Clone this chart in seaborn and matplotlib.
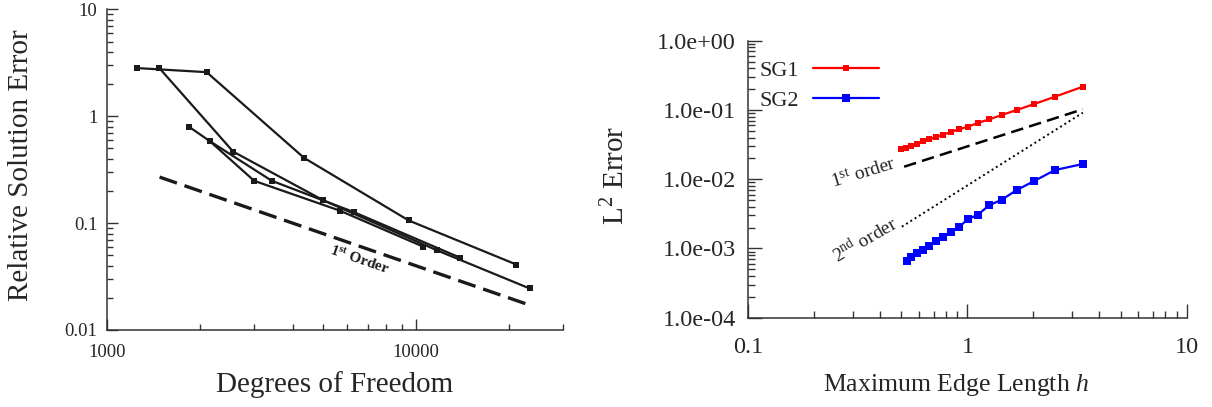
import numpy as np
import pandas as pd
import matplotlib
matplotlib.use("Agg")
import matplotlib.pyplot as plt
from matplotlib.ticker import LogLocator, NullFormatter, FixedLocator, FixedFormatter
from matplotlib.lines import Line2D
import seaborn as sns

# ---------------- data: left panel (mesh refinement studies) ----------------
dof_a = [1248, 2102, 4350, 9490, 21180]
err_a = [2.83, 2.59, 0.408, 0.106, 0.041]
dof_b = [1474, 2563, 5012, 11750, 23380]
err_b = [2.85, 0.467, 0.164, 0.0555, 0.0245]
dof_c = [1842, 2155, 2998, 5676, 10560]
err_c = [0.80, 0.584, 0.249, 0.131, 0.0604]
dof_d = [2155, 3420, 6300, 13880]
err_d = [0.584, 0.249, 0.127, 0.0477]
ref1_dof = [1480, 23400]
ref1_err = [0.270, 0.0171]

# ---------------- data: right panel (SG1 / SG2 convergence) ----------------
h_sg1 = [0.497, 0.525, 0.554, 0.588, 0.626, 0.669, 0.717, 0.772, 0.837,
         0.913, 1.004, 1.115, 1.256, 1.434, 1.679, 2.015, 2.51, 3.36]
err_sg1 = [0.0270, 0.0285, 0.0305, 0.0326, 0.0352, 0.0377, 0.0407, 0.0435,
           0.0481, 0.0525, 0.0573, 0.0648, 0.0732, 0.0845, 0.0998, 0.1218,
           0.1555, 0.2168]
h_sg2 = [0.529, 0.554, 0.588, 0.626, 0.669, 0.717, 0.772, 0.837, 0.913,
         1.004, 1.115, 1.256, 1.434, 1.679, 2.015, 2.51, 3.36]
err_sg2 = [0.000666, 0.000761, 0.000851, 0.000960, 0.001096, 0.001267,
           0.001463, 0.001746, 0.002040, 0.00263, 0.003076, 0.004197,
           0.00506, 0.00698, 0.00942, 0.01358, 0.01658]
ord1_h = [0.514, 3.36]
ord1_err = [0.01515, 0.1022]
ord2_h = [0.502, 3.36]
ord2_err = [0.00206, 0.0913]

sns.set_style("ticks")
plt.rcParams["font.family"] = ["Liberation Serif", "DejaVu Serif"]
plt.rcParams["mathtext.fontset"] = "custom"
plt.rcParams["mathtext.rm"] = "Liberation Serif"
plt.rcParams["mathtext.it"] = "Liberation Serif:italic"
plt.rcParams["mathtext.bf"] = "Liberation Serif:bold"

fig = plt.figure(figsize=(12.12, 4.07), dpi=100)
ax1 = fig.add_axes([0.0883, 0.1892, 0.3762, 0.7875])
ax2 = fig.add_axes([0.6174, 0.2194, 0.3617, 0.6806])

# ---------------- left panel ----------------
left = pd.concat([
    pd.DataFrame({"dof": dof_a, "err": err_a, "study": "a"}),
    pd.DataFrame({"dof": dof_b, "err": err_b, "study": "b"}),
    pd.DataFrame({"dof": dof_c, "err": err_c, "study": "c"}),
    pd.DataFrame({"dof": dof_d, "err": err_d, "study": "d"}),
], ignore_index=True)
sns.lineplot(data=left, x="dof", y="err", units="study", estimator=None,
             sort=False, color="#1a1a1a", lw=1.6, marker="s", markersize=5,
             markeredgewidth=0, ax=ax1, legend=False)
sns.lineplot(x=ref1_dof, y=ref1_err, color="#1a1a1a", lw=2.4,
             dashes=False, ax=ax1, legend=False)
ax1.lines[-1].set_dashes([5.5, 2.4])
ax1.set_xscale("log")
ax1.set_yscale("log")
ax1.set_xlim(1000, 30000)
ax1.set_ylim(0.01, 10)
ax1.xaxis.set_major_locator(FixedLocator([1000, 10000]))
ax1.xaxis.set_major_formatter(FixedFormatter(["1000", "10000"]))
ax1.yaxis.set_major_locator(FixedLocator([0.01, 0.1, 1, 10]))
ax1.yaxis.set_major_formatter(FixedFormatter(["0.01", "0.1", "1", "10"]))
for a in (ax1.xaxis, ax1.yaxis):
    a.set_minor_locator(LogLocator(base=10, subs=np.arange(2, 10), numticks=20))
    a.set_minor_formatter(NullFormatter())
ax1.tick_params(which="both", direction="in", width=1.0, color="#333333",
                labelsize=13.5)
ax1.tick_params(which="major", length=8)
ax1.tick_params(which="minor", length=4)
ax1.tick_params(axis="y", pad=7)
ax1.tick_params(axis="x", pad=10)
for s in ("top", "right"):
    ax1.spines[s].set_visible(False)
for s in ("left", "bottom"):
    ax1.spines[s].set_linewidth(1.1)
    ax1.spines[s].set_color("#333333")
ax1.set_xlabel("Degrees of Freedom", fontsize=21)
ax1.set_ylabel("Relative Solution Error", fontsize=21)
ax1.xaxis.set_label_coords(0.5, -0.129)
ax1.yaxis.set_label_coords(-0.16, 0.515)
ax1.text(6590, 0.0454, r"1$^{\mathbf{st}}$ Order", fontsize=11,
         fontweight="bold", rotation=-19, rotation_mode="anchor",
         ha="center", va="center", color="#1a1a1a")

# ---------------- right panel ----------------
right = pd.concat([
    pd.DataFrame({"h": h_sg1, "err": err_sg1, "scheme": "SG1"}),
    pd.DataFrame({"h": h_sg2, "err": err_sg2, "scheme": "SG2"}),
], ignore_index=True)
palette = {"SG1": "#ff0000", "SG2": "#0000ff"}
sns.lineplot(data=right[right.scheme == "SG1"], x="h", y="err", color=palette["SG1"],
             lw=1.6, marker="s", markersize=4, markeredgewidth=0, ax=ax2,
             legend=False)
sns.lineplot(data=right[right.scheme == "SG2"], x="h", y="err", color=palette["SG2"],
             lw=1.6, marker="s", markersize=6, markeredgewidth=0, ax=ax2,
             legend=False)
sns.lineplot(x=ord1_h, y=ord1_err, color="black", lw=1.8, ax=ax2, legend=False)
ax2.lines[-1].set_dashes([5, 2.5])
sns.lineplot(x=ord2_h, y=ord2_err, color="black", lw=1.4, ax=ax2, legend=False)
ax2.lines[-1].set_dashes([1, 1.6])
ax2.set_xscale("log")
ax2.set_yscale("log")
ax2.set_xlim(0.1, 10)
ax2.set_ylim(1e-4, 1)
ax2.xaxis.set_major_locator(FixedLocator([0.1, 1, 10]))
ax2.xaxis.set_major_formatter(FixedFormatter(["0.1", "1", "10"]))
ax2.yaxis.set_major_locator(FixedLocator([1e-4, 1e-3, 1e-2, 1e-1, 1]))
ax2.yaxis.set_major_formatter(FixedFormatter(
    ["1.0e-04", "1.0e-03", "1.0e-02", "1.0e-01", "1.0e+00"]))
for a in (ax2.xaxis, ax2.yaxis):
    a.set_minor_locator(LogLocator(base=10, subs=np.arange(2, 10), numticks=20))
    a.set_minor_formatter(NullFormatter())
ax2.tick_params(which="both", direction="in", width=1.0, color="#333333",
                labelsize=17.5)
ax2.tick_params(which="major", length=10)
ax2.tick_params(which="minor", length=5)
ax2.tick_params(axis="y", pad=9)
ax2.tick_params(axis="x", pad=14)
for s in ("top", "right"):
    ax2.spines[s].set_visible(False)
for s in ("left", "bottom"):
    ax2.spines[s].set_linewidth(1.1)
    ax2.spines[s].set_color("#333333")
ax2.set_xlabel(r"Maximum Edge Length $h$", fontsize=18.5)
ax2.set_ylabel(r"L$^2$ Error", fontsize=21)
ax2.xaxis.set_label_coords(0.473, -0.195)
ax2.yaxis.set_label_coords(-0.27, 0.515)
ax2.text(0.3345, 0.0123, r"1$^{\rm st}$ order", fontsize=14, rotation=17,
         rotation_mode="anchor", ha="center", va="center")
ax2.text(0.341, 0.00135, r"2$^{\rm nd}$ order", fontsize=14, rotation=30,
         rotation_mode="anchor", ha="center", va="center")

handles = [
    Line2D([], [], color=palette["SG1"], lw=1.6, marker="s", markersize=4,
           markeredgewidth=0),
    Line2D([], [], color=palette["SG2"], lw=1.6, marker="s", markersize=6,
           markeredgewidth=0),
]
ax2.legend(handles, ["SG1", "SG2"], loc="upper left", bbox_to_anchor=(0.016, 0.945),
           frameon=False, markerfirst=False, fontsize=16, handlelength=3.0,
           handletextpad=0.6, labelspacing=0.42, borderaxespad=0.0,
           borderpad=0.2, numpoints=1)

fig.savefig("out.png", dpi=100)
